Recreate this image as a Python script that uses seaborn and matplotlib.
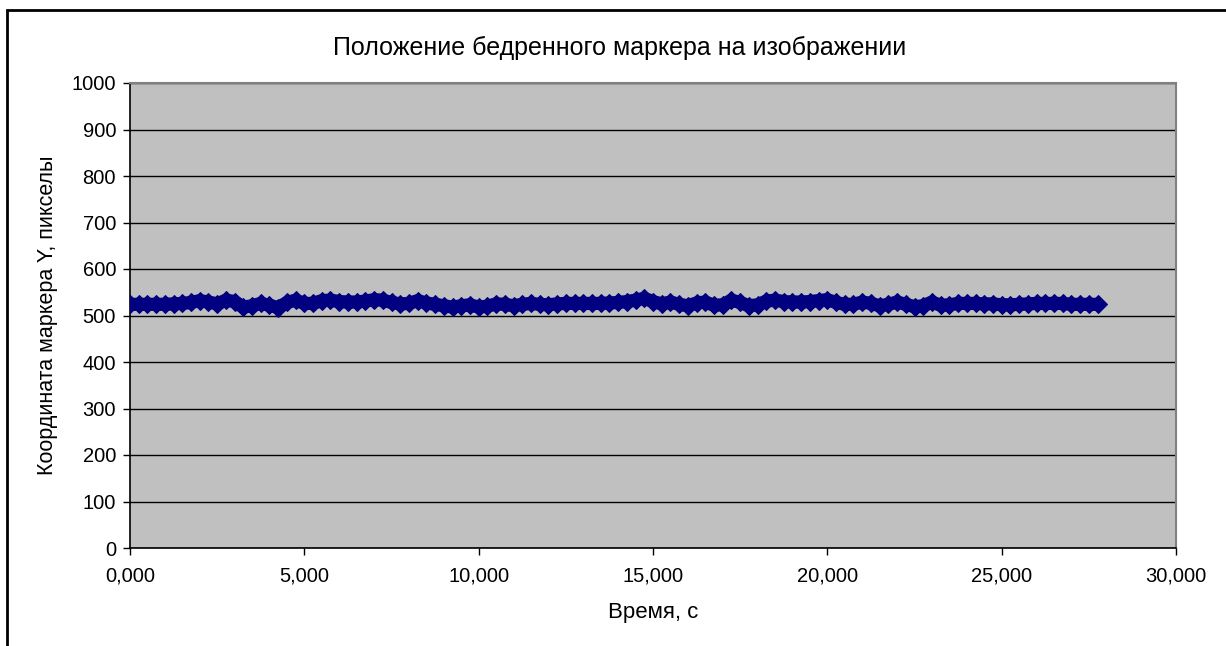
import matplotlib
matplotlib.use("Agg")
import matplotlib.pyplot as plt
import matplotlib.patches as mpatches
from matplotlib.ticker import FuncFormatter, MultipleLocator
import seaborn as sns
import pandas as pd

times = [0.00, 0.25, 0.50, 0.75, 1.00, 1.25, 1.50, 1.75, 2.00, 2.25, 2.50, 2.75,
         3.00, 3.25, 3.50, 3.75, 4.00, 4.25, 4.50, 4.75, 5.00, 5.25, 5.50, 5.75,
         6.00, 6.25, 6.50, 6.75, 7.00, 7.25, 7.50, 7.75, 8.00, 8.25, 8.50, 8.75,
         9.00, 9.25, 9.50, 9.75, 10.00, 10.25, 10.50, 10.75, 11.00, 11.25, 11.50, 11.75,
         12.00, 12.25, 12.50, 12.75, 13.00, 13.25, 13.50, 13.75, 14.00, 14.25, 14.50, 14.75,
         15.00, 15.25, 15.50, 15.75, 16.00, 16.25, 16.50, 16.75, 17.00, 17.25, 17.50, 17.75,
         18.00, 18.25, 18.50, 18.75, 19.00, 19.25, 19.50, 19.75, 20.00, 20.25, 20.50, 20.75,
         21.00, 21.25, 21.50, 21.75, 22.00, 22.25, 22.50, 22.75, 23.00, 23.25, 23.50, 23.75,
         24.00, 24.25, 24.50, 24.75, 25.00, 25.25, 25.50, 25.75, 26.00, 26.25, 26.50, 26.75,
         27.00, 27.25, 27.50, 27.75]

y_pos = [524, 524, 524, 524, 524, 525, 526, 528, 532, 529, 525, 533,
         530, 518, 521, 526, 522, 517, 528, 533, 526, 526, 532, 533,
         530, 529, 529, 531, 534, 533, 528, 525, 526, 532, 527, 524,
         521, 518, 521, 523, 518, 520, 525, 524, 521, 524, 526, 524,
         523, 525, 526, 526, 526, 526, 526, 527, 528, 530, 533, 537,
         530, 525, 529, 524, 521, 527, 529, 522, 523, 533, 528, 521,
         523, 531, 533, 530, 529, 529, 530, 532, 534, 528, 524, 524,
         529, 526, 521, 524, 529, 524, 519, 521, 529, 522, 523, 526,
         526, 526, 525, 525, 523, 523, 524, 525, 526, 526, 526, 526,
         524, 524, 524, 524]

title = "Положение бедренного маркера на изображении"
xlabel = "Время, с"
ylabel = "Координата маркера Y, пикселы"

df = pd.DataFrame({"t": times, "y": y_pos})

plt.rcParams["font.family"] = ["Liberation Sans", "DejaVu Sans"]

fig = plt.figure(figsize=(12.26, 6.46), dpi=100)
fig.patch.set_facecolor("white")
ax = fig.add_axes([130/1226, 98/646, 1046/1226, 465/646])
ax.set_facecolor("#C0C0C0")

sns.lineplot(data=df, x="t", y="y", ax=ax, color="#000080", marker="D",
             markersize=9, markeredgecolor="#000080", linewidth=9.5,
             solid_joinstyle="round", solid_capstyle="butt", zorder=3)

ax.set_xlim(0, 30)
ax.set_ylim(0, 1000)
ax.xaxis.set_major_locator(MultipleLocator(5))
ax.yaxis.set_major_locator(MultipleLocator(100))
ax.xaxis.set_major_formatter(FuncFormatter(lambda v, p: f"{v:.3f}".replace(".", ",")))
ax.yaxis.set_major_formatter(FuncFormatter(lambda v, p: f"{int(v)}"))
ax.yaxis.grid(True, color="black", linewidth=1)
ax.xaxis.grid(False)
ax.set_axisbelow(True)

for s in ["top", "right"]:
    ax.spines[s].set_color("#808080")
    ax.spines[s].set_linewidth(1.5)
for s in ["left", "bottom"]:
    ax.spines[s].set_color("black")
    ax.spines[s].set_linewidth(1.2)

ax.tick_params(axis="both", direction="out", length=5, width=1, colors="black",
               labelsize=14.5, pad=5)
ax.tick_params(axis="x", pad=8)

ax.set_xlabel(xlabel, fontsize=16, labelpad=12)
ax.set_ylabel(ylabel, fontsize=15.5, labelpad=10)
fig.text(620/1226, 1 - 48/646, title, ha="center", va="center", fontsize=18)

border = mpatches.Rectangle((7/1226, -0.5), 2.0, 0.5 + (646 - 10)/646,
                            transform=fig.transFigure, fill=False,
                            edgecolor="black", linewidth=2, zorder=10)
fig.patches.append(border)

fig.savefig("out.png", dpi=100)
